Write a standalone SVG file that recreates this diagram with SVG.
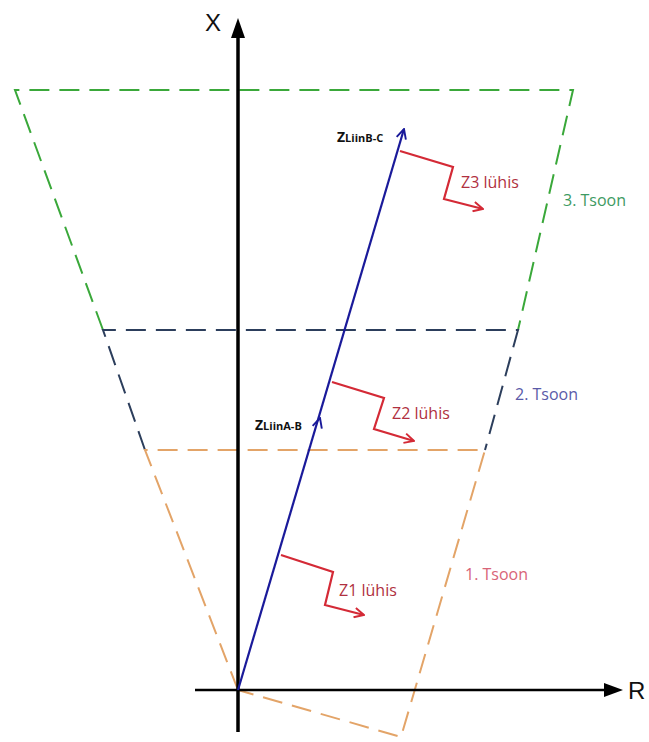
<svg xmlns="http://www.w3.org/2000/svg" width="649" height="742" viewBox="0 0 649 742">
<defs>
<style>
.zg{fill:none;stroke:#3aa83a;stroke-width:2;stroke-dasharray:20 10}
.zb{fill:none;stroke:#2c3e5c;stroke-width:2;stroke-dasharray:20 10}
.zo{fill:none;stroke:#e3a468;stroke-width:2;stroke-dasharray:20 10}
.ax{stroke:#000;stroke-width:3.5;fill:none}
.red{fill:none;stroke:#d42a36;stroke-width:2.2}
.lbl{font-family:"Open Sans","Liberation Sans",sans-serif;font-size:16px}
.zl{font-family:"Open Sans","Liberation Sans",sans-serif;font-weight:bold;fill:#111}
</style>
<marker id="ra" viewBox="0 0 10 10" refX="9" refY="5" markerWidth="12" markerHeight="12" orient="auto" markerUnits="userSpaceOnUse">
<path d="M1,1 L9,5 L1,9" fill="none" stroke="#d42a36" stroke-width="1.6"/>
</marker>
<marker id="ba" viewBox="0 0 10 10" refX="9" refY="5" markerWidth="12" markerHeight="12" orient="auto" markerUnits="userSpaceOnUse">
<path d="M1,1 L9,5 L1,9" fill="none" stroke="#1a1a9a" stroke-width="1.6"/>
</marker>
</defs>
<rect width="649" height="742" fill="#fff"/>
<g id="zone3">
<path class="zg" d="M103,330 L15,90 L573,90 L518,330"/>
<text class="lbl" x="563" y="206" fill="#3d9a62">3. Tsoon</text>
</g>
<g id="zone2">
<path class="zb" d="M145,450 L103,330 L518,330 L485,450"/>
<text class="lbl" x="515" y="400" fill="#5a5aa8">2. Tsoon</text>
</g>
<g id="zone1">
<path class="zo" d="M238,690 L145,450 L485,450 L401,737 L238,690"/>
<text class="lbl" x="465" y="580" fill="#d86478">1. Tsoon</text>
</g>
<g id="axes">
<line class="ax" x1="238" y1="34" x2="238" y2="732"/>
<polygon points="238,18 231,38 245,38" fill="#000"/>
<text x="205" y="31" font-family="Liberation Sans,Arial,sans-serif" font-size="24" fill="#111">X</text>
<line x1="195" y1="690" x2="608" y2="690" stroke="#000" stroke-width="2.5"/>
<polygon points="623,690 604,683 604,697" fill="#000"/>
<text x="628" y="699" font-family="Liberation Sans,Arial,sans-serif" font-size="24" fill="#111">R</text>
</g>
<g id="connectors">
<line x1="238" y1="690" x2="404" y2="129" stroke="#1a1a9a" stroke-width="2.2" marker-end="url(#ba)"/>
<line x1="238" y1="690" x2="320" y2="418" stroke="none" marker-end="url(#ba)"/>
</g>
<g id="z3">
<polyline class="red" points="400,151 453,167 444,199 483,209" marker-end="url(#ra)"/>
<text class="lbl" x="461" y="188" fill="#b03040">Z3 lühis</text>
<text class="zl" x="337" y="142"><tspan font-size="14">Z</tspan><tspan font-size="11">LiinB-C</tspan></text>
</g>
<g id="z2">
<polyline class="red" points="332,382 384,398 374,429 414,441" marker-end="url(#ra)"/>
<text class="lbl" x="392" y="419" fill="#b03040">Z2 lühis</text>
<text class="zl" x="255" y="430"><tspan font-size="14">Z</tspan><tspan font-size="11">LiinA-B</tspan></text>
</g>
<g id="z1">
<polyline class="red" points="281,555 333,572 325,605 364,615" marker-end="url(#ra)"/>
<text class="lbl" x="339" y="596" fill="#b03040">Z1 lühis</text>
</g>
</svg>
